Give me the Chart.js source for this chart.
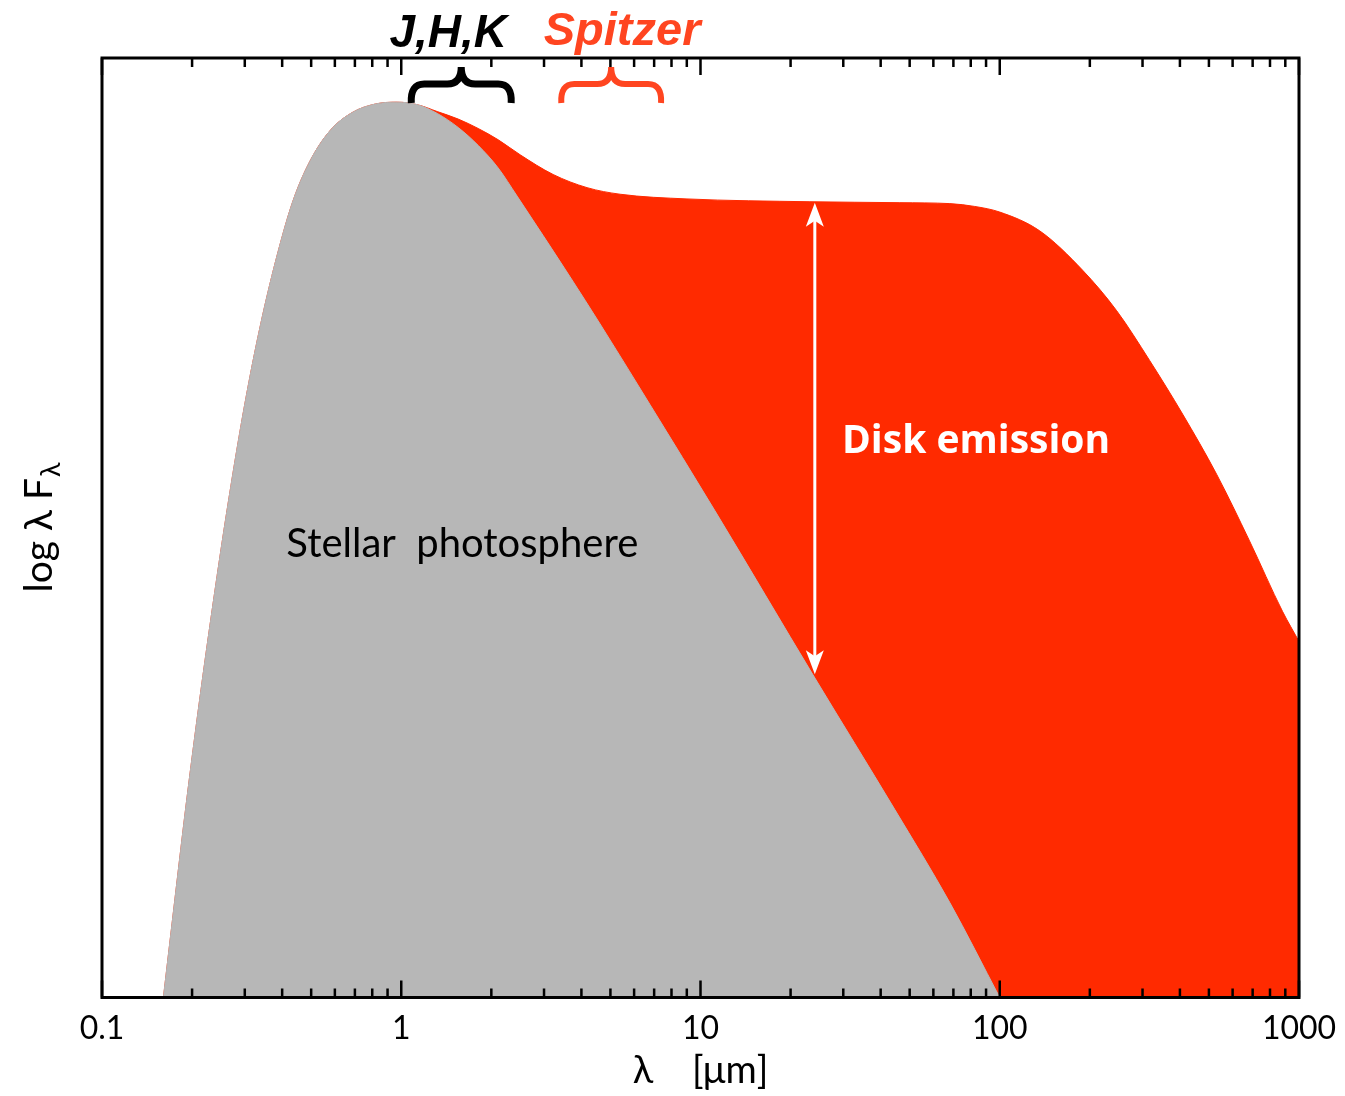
<!DOCTYPE html>
<html>
<head>
<meta charset="utf-8">
<script src="https://cdn.jsdelivr.net/npm/chart.js@4.4.1/dist/chart.umd.min.js"></script>
<style>
  body { margin: 0; background: #fff; }
  #wrap { width: 1345px; height: 1096px; position: relative; }
</style>
</head>
<body>
<div id="wrap"><canvas id="sedChart"></canvas></div>
<script>
// wavelength in micron, flux in arbitrary units (0 = bottom of frame, 100 = top)
const starLambda = [0.1604, 0.1747, 0.1915, 0.2116, 0.2357, 0.2645, 0.3014, 0.3408, 0.3885, 0.4359, 0.4968, 0.5794, 0.6863, 0.8187, 0.9697, 1.14, 1.319, 1.55, 1.807, 2.108, 2.439, 2.98, 3.667, 4.617, 6.783, 11.18, 24.12, 44.62, 68.1, 100];
const starFlux = [0, 10.1, 20.8, 31.5, 42.2, 52.8, 63.5, 72.0, 79.5, 84.9, 89.1, 92.3, 94.2, 95.1, 95.3, 95.0, 94.1, 92.6, 90.7, 88.3, 85.3, 81.1, 76.7, 71.7, 63.1, 51.8, 34.0, 20.0, 10.1, 0];

const totalLambda = [0.1604, 0.1747, 0.1915, 0.2116, 0.2357, 0.2645, 0.3014, 0.3408, 0.3885, 0.4359, 0.4968, 0.5794, 0.6863, 0.8187, 0.9697, 1.14, 1.319, 1.55, 1.807, 2.108, 2.496, 3.218, 4.178, 5.386, 9.014, 23.21, 46.37, 68.1, 82.48, 100, 136, 189.3, 245.9, 316.9, 408.3, 530.4, 683.4, 880.8, 1000];
const totalFlux = [0, 10.1, 20.8, 31.5, 42.2, 52.8, 63.5, 72.0, 79.5, 84.9, 89.1, 92.3, 94.2, 95.1, 95.3, 95.0, 94.3, 93.5, 92.5, 91.3, 89.7, 87.6, 86.2, 85.5, 85.0, 84.7, 84.6, 84.5, 84.2, 83.6, 81.6, 77.4, 73.1, 67.8, 62.1, 55.7, 48.6, 41.1, 37.9];

const majorTicks = [0.1, 1, 10, 100, 1000];
const tickLabels = ['0.1', '1', '10', '100', '1000'];
const minorSteps = [2, 3, 4, 5, 6, 7, 8, 9];

// arrow between the two curves
const arrowLambda = 24.1;
const arrowTop = 84.6;
const arrowBottom = 34.4;

const toPoints = (xs, ys) => xs.map((x, i) => ({ x: x, y: ys[i] }));

const framePlugin = {
    id: 'frame',
    afterDatasetsDraw(chart) {
        const ctx = chart.ctx;
        const a = chart.chartArea;
        const xs = chart.scales.x;
        const ys = chart.scales.y;
        ctx.save();

        // disk emission arrow
        const ax = xs.getPixelForValue(arrowLambda);
        const at = ys.getPixelForValue(arrowTop);
        const ab = ys.getPixelForValue(arrowBottom);
        ctx.strokeStyle = '#fff';
        ctx.fillStyle = '#fff';
        ctx.lineWidth = 3;
        ctx.beginPath();
        ctx.moveTo(ax, at + 15);
        ctx.lineTo(ax, ab - 15);
        ctx.stroke();
        const head = (tipY, dir) => {
            ctx.beginPath();
            ctx.moveTo(ax, tipY);
            ctx.lineTo(ax - 9, tipY + dir * 24);
            ctx.lineTo(ax, tipY + dir * 18);
            ctx.lineTo(ax + 9, tipY + dir * 24);
            ctx.closePath();
            ctx.fill();
        };
        head(at, 1);
        head(ab, -1);

        // labels inside the plot
        ctx.font = 'bold 39px "Open Sans"';
        ctx.textAlign = 'left';
        ctx.textBaseline = 'middle';
        ctx.fillText('Disk emission', xs.getPixelForValue(29.7), ys.getPixelForValue(59.1));

        ctx.fillStyle = '#000';
        ctx.font = '40px Lato';
        ctx.textAlign = 'center';
        ctx.fillText('Stellar  photosphere', xs.getPixelForValue(1.6), ys.getPixelForValue(48.3));

        // frame with inward ticks
        ctx.strokeStyle = '#000';
        ctx.lineWidth = 3;
        ctx.strokeRect(a.left, a.top, a.right - a.left, a.bottom - a.top);
        ctx.lineWidth = 2.5;
        xs.ticks.forEach(t => {
            const px = xs.getPixelForValue(t.value);
            const len = t.major ? 17 : 9;
            ctx.beginPath();
            ctx.moveTo(px, a.bottom);
            ctx.lineTo(px, a.bottom - len);
            ctx.moveTo(px, a.top);
            ctx.lineTo(px, a.top + len);
            ctx.stroke();
        });

        // y axis title with subscript
        ctx.translate(40, 528);
        ctx.rotate(-Math.PI / 2);
        ctx.font = '39px Lato';
        ctx.textAlign = 'left';
        ctx.textBaseline = 'alphabetic';
        const main = 'log λ F';
        const w = ctx.measureText(main).width;
        ctx.font = '27px Lato';
        const sw = ctx.measureText('λ').width;
        let x0 = -(w + sw) / 2;
        ctx.font = '39px Lato';
        ctx.fillText(main, x0, 12);
        ctx.font = '27px Lato';
        ctx.fillText('λ', x0 + w + 1, 20);
        ctx.restore();
    },
    afterDraw(chart) {
        const ctx = chart.ctx;
        const xs = chart.scales.x;
        ctx.save();

        const brace = (l1, l2, color, lw) => {
            const x1 = xs.getPixelForValue(l1);
            const x2 = xs.getPixelForValue(l2);
            const xc = (x1 + x2) / 2;
            const yb = 103, ym = 84, yt = 67, r = 14;
            ctx.strokeStyle = color;
            ctx.lineWidth = lw;
            ctx.lineCap = 'butt';
            ctx.beginPath();
            ctx.moveTo(x1 + 1, yb);
            ctx.quadraticCurveTo(x1, ym, x1 + r, ym);
            ctx.lineTo(xc - r, ym);
            ctx.quadraticCurveTo(xc, ym, xc, yt);
            ctx.quadraticCurveTo(xc, ym, xc + r, ym);
            ctx.lineTo(x2 - r, ym);
            ctx.quadraticCurveTo(x2, ym, x2 - 1, yb);
            ctx.stroke();
        };
        brace(1.072, 2.348, '#000', 7);
        brace(3.40, 7.44, '#ff4520', 6);

        ctx.font = 'italic bold 46px "Liberation Sans"';
        ctx.textAlign = 'center';
        ctx.textBaseline = 'alphabetic';
        ctx.fillStyle = '#000';
        ctx.fillText('J,H,K', xs.getPixelForValue(1.435), 47);
        ctx.fillStyle = '#ff4520';
        ctx.font = 'italic bold 47px "Liberation Sans"';
        ctx.fillText('Spitzer', xs.getPixelForValue(5.47), 45);
        ctx.restore();
    }
};

new Chart(document.getElementById('sedChart').getContext('2d'), {
    type: 'line',
    data: {
        datasets: [{
            label: 'Stellar photosphere',
            data: toPoints(starLambda, starFlux),
            backgroundColor: '#b7b7b7',
            borderColor: '#b7b7b7',
            borderWidth: 1,
            pointRadius: 0,
            fill: 'start',
            cubicInterpolationMode: 'monotone'
        }, {
            label: 'Disk emission',
            data: toPoints(totalLambda, totalFlux),
            backgroundColor: '#ff2a00',
            borderColor: '#ff2a00',
            borderWidth: 1,
            pointRadius: 0,
            fill: 'start',
            cubicInterpolationMode: 'monotone'
        }]
    },
    options: {
        responsive: true,
        maintainAspectRatio: false,
        animation: false,
        layout: { padding: { left: 102, right: 46, top: 58, bottom: 2 } },
        plugins: {
            legend: { display: false },
            tooltip: { enabled: false }
        },
        scales: {
            x: {
                type: 'logarithmic',
                min: 0.1,
                max: 1000,
                afterBuildTicks: (axis) => {
                    const ticks = [];
                    majorTicks.forEach((m, i) => {
                        ticks.push({ value: m, major: true });
                        if (i < majorTicks.length - 1) {
                            minorSteps.forEach(s => ticks.push({ value: m * s, major: false }));
                        }
                    });
                    axis.ticks = ticks;
                },
                afterFit: (axis) => {
                    axis.paddingLeft = 0;
                    axis.paddingRight = 0;
                },
                ticks: {
                    autoSkip: false,
                    maxRotation: 0,
                    padding: 12,
                    color: '#000',
                    font: { family: 'Lato', size: 32 },
                    callback: (value) => {
                        const i = majorTicks.indexOf(value);
                        return i >= 0 ? tickLabels[i] : '';
                    }
                },
                grid: { display: false, drawTicks: false, tickLength: 0 },
                border: { display: false },
                title: {
                    display: true,
                    text: 'λ    [μm]',
                    color: '#000',
                    font: { family: 'Lato', size: 38 },
                    padding: { top: -11.5, bottom: 0 }
                }
            },
            y: {
                display: false,
                min: 0,
                max: 100
            }
        }
    },
    plugins: [framePlugin]
});
</script>
</body>
</html>
